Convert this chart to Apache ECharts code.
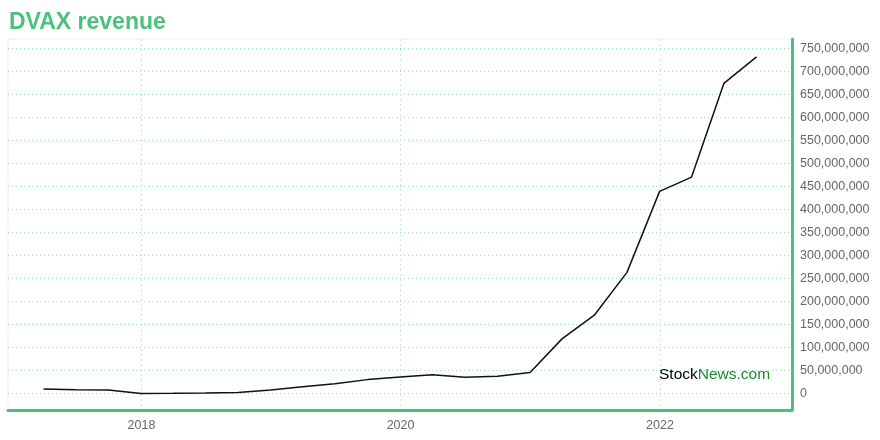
<!DOCTYPE html>
<html>
<head>
<meta charset="utf-8">
<script src="https://cdn.jsdelivr.net/npm/echarts@6/dist/echarts.min.js"></script>
<style>html,body{margin:0;padding:0;background:#fff}#chart{width:880px;height:440px}</style>
</head>
<body>
<div id="chart"></div>
<script>
// Quarter-end dates
var dates = ['2017-03-31','2017-06-30','2017-09-30','2017-12-31','2018-03-31','2018-06-30','2018-09-30','2018-12-31',
             '2019-03-31','2019-06-30','2019-09-30','2019-12-31','2020-03-31','2020-06-30','2020-09-30','2020-12-31',
             '2021-03-31','2021-06-30','2021-09-30','2021-12-31','2022-03-31','2022-06-30','2022-09-30'];
// Revenue (USD)
var revenue = [9500000, 8000000, 7500000, 0, 300000, 1000000, 2200000, 7500000,
               14500000, 21000000, 30000000, 35500000, 40500000, 35000000, 37500000, 45500000,
               118500000, 170000000, 263000000, 439000000, 470000000, 673500000, 731000000];
var yTicks = [0,50000000,100000000,150000000,200000000,250000000,300000000,350000000,400000000,
              450000000,500000000,550000000,600000000,650000000,700000000,750000000];
var xTickYears = [2018, 2020, 2022];

function ts(d){ var p = d.split('-'); return Date.UTC(+p[0], +p[1]-1, +p[2]); }
var chart = echarts.init(document.getElementById('chart'));
var xTicks = xTickYears.map(function(y){ return Date.UTC(y,0,1); });
var green = '#4cc17b';
var ff = 'Liberation Sans, Arial, sans-serif';
chart.setOption({
  animation: false,
  title: {
    text: 'DVAX revenue', left: 4, top: 6,
    textStyle: { color: green, fontSize: 23, fontWeight: 'bold', fontFamily: ff }
  },
  grid: { left: 8, top: 39, right: 88, bottom: 30, show: true, borderColor: '#eeeeee', borderWidth: 1 },
  xAxis: {
    type: 'value',
    min: ts('2016-12-21'),
    max: ts('2023-01-08'),
    axisLine: { onZero: false, lineStyle: { color: green, width: 3 } },
    axisTick: { show: false, customValues: xTicks },
    axisLabel: { customValues: xTicks, color: '#666', fontSize: 12.5, margin: 9, fontFamily: ff,
      formatter: function(v){ return String(new Date(v).getUTCFullYear()); } },
    splitLine: { show: true, lineStyle: { color: '#c4ecd6', type: [2,3], width: 1 } }
  },
  yAxis: {
    type: 'value', position: 'right',
    min: -36000000, max: 770000000,
    axisLine: { show: true, lineStyle: { color: green, width: 3 } },
    axisTick: { show: false, customValues: yTicks },
    axisLabel: { customValues: yTicks, color: '#666', fontSize: 12.5, margin: 8, fontFamily: ff,
      formatter: function(v){ return Math.round(v).toLocaleString('en-US'); } },
    splitLine: { show: true, lineStyle: { color: '#9edcb9', type: [1,3], width: 1 } }
  },
  graphic: [{
    type: 'text', left: 659, top: 367, z: 100,
    style: {
      text: '{a|Stock}{b|News.com}',
      rich: {
        a: { fill: '#000', fontSize: 15.5, fontFamily: ff },
        b: { fill: '#1a8a2a', fontSize: 15.5, fontFamily: ff }
      }
    }
  }],
  series: [{
    type: 'line',
    data: dates.map(function(d,i){ return [ts(d), revenue[i]]; }),
    showSymbol: false, symbol: 'none',
    lineStyle: { color: '#111', width: 1.5 }
  }]
});
</script>
</body>
</html>
